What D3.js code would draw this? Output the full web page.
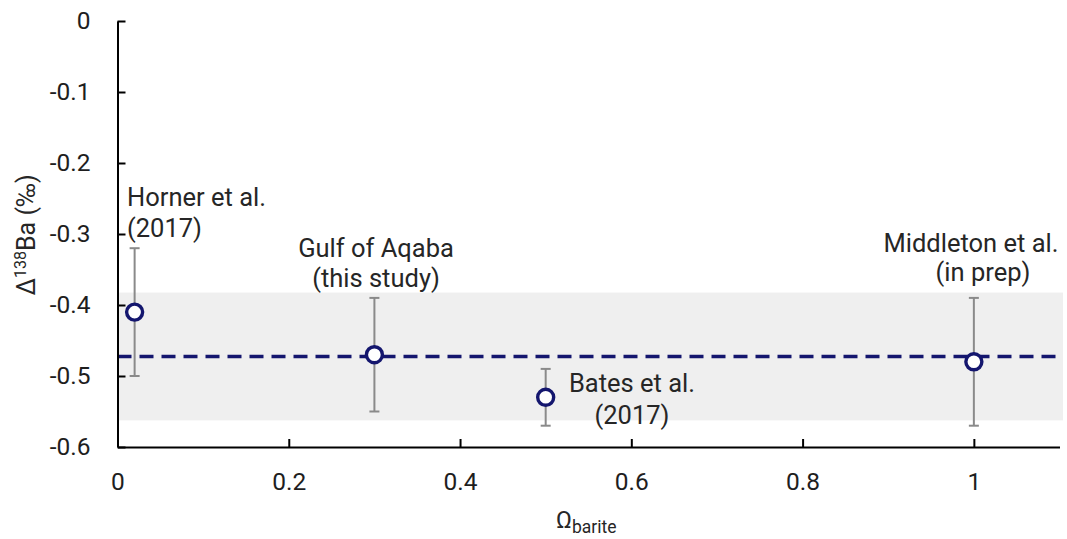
<!DOCTYPE html>
<html>
<head>
<meta charset="utf-8">
<script src="https://cdn.jsdelivr.net/npm/d3@7"></script>
<style>
  html, body { margin: 0; padding: 0; background: #ffffff; }
  svg { display: block; font-family: Roboto, "Noto Sans", sans-serif; }
</style>
</head>
<body>
<svg id="chart" width="1067" height="539"></svg>
<script>
// Barite saturation vs. Ba isotope fractionation, per study
const studies = ["Horner et al.|(2017)", "Gulf of Aqaba|(this study)", "Bates et al.|(2017)", "Middleton et al.|(in prep)"];
const omegaBarite = [0.02, 0.30, 0.50, 1.00];
const delta138 = [-0.41, -0.47, -0.53, -0.48];
const errUpper = [-0.32, -0.39, -0.49, -0.39];
const errLower = [-0.50, -0.55, -0.57, -0.57];

// Mean fractionation and its ±2SD envelope
const meanDelta = -0.4725;
const envelope = [-0.3825, -0.5625];

const xTicks = [0, 0.2, 0.4, 0.6, 0.8, 1];
const xTickLabels = ["0", "0.2", "0.4", "0.6", "0.8", "1"];
const yTicks = [0, -0.1, -0.2, -0.3, -0.4, -0.5, -0.6];
const yTickLabels = ["0", "-0.1", "-0.2", "-0.3", "-0.4", "-0.5", "-0.6"];

const svg = d3.select("#chart");
const navy = "#14166e";

const x = d3.scaleLinear().domain([0, 1.1]).range([117.5, 1059.5]);
const y = d3.scaleLinear().domain([-0.6, 0]).range([447, 21]);

// envelope band
svg.append("rect")
  .attr("x", x(0))
  .attr("y", y(envelope[0]))
  .attr("width", 1063 - x(0))
  .attr("height", y(envelope[1]) - y(envelope[0]))
  .attr("fill", "#efefef");

// mean line
svg.append("line")
  .attr("x1", x(0)).attr("x2", 1063)
  .attr("y1", y(meanDelta)).attr("y2", y(meanDelta))
  .attr("stroke", navy)
  .attr("stroke-width", 3.6)
  .attr("stroke-dasharray", "14,8");

// axes
const xAxis = d3.axisBottom(x)
  .tickValues(xTicks)
  .tickFormat((d, i) => xTickLabels[i])
  .tickSizeInner(-8)
  .tickSizeOuter(0)
  .tickPadding(26);

const yAxis = d3.axisLeft(y)
  .tickValues(yTicks)
  .tickFormat((d, i) => yTickLabels[i])
  .tickSizeInner(-8)
  .tickSizeOuter(0)
  .tickPadding(27);

function styleAxis(g) {
  g.select(".domain").attr("stroke", "#000").attr("stroke-width", 2);
  g.selectAll(".tick line").attr("stroke", "#000").attr("stroke-width", 2);
  g.selectAll(".tick text")
    .attr("fill", "#1e1e1e")
    .style("font-size", "24.5px")
    .style("font-family", "Roboto, sans-serif");
}

svg.append("g")
  .attr("transform", `translate(0,${y(-0.6)})`)
  .call(xAxis)
  .call(styleAxis);

svg.append("g")
  .attr("transform", `translate(${x(0)},0)`)
  .call(yAxis)
  .call(styleAxis);

// error bars
const pts = omegaBarite.map((v, i) => ({ x: v, y: delta138[i], hi: errUpper[i], lo: errLower[i], label: studies[i] }));
const capHalf = 5;
const eb = svg.append("g").attr("stroke", "#8a8a8a").attr("stroke-width", 2);
pts.forEach(p => {
  eb.append("line").attr("x1", x(p.x)).attr("x2", x(p.x)).attr("y1", y(p.hi)).attr("y2", y(p.lo));
  eb.append("line").attr("x1", x(p.x) - capHalf).attr("x2", x(p.x) + capHalf).attr("y1", y(p.hi)).attr("y2", y(p.hi));
  eb.append("line").attr("x1", x(p.x) - capHalf).attr("x2", x(p.x) + capHalf).attr("y1", y(p.lo)).attr("y2", y(p.lo));
});

// markers
svg.append("g").selectAll("circle")
  .data(pts)
  .join("circle")
  .attr("cx", d => x(d.x))
  .attr("cy", d => y(d.y))
  .attr("r", 8)
  .attr("fill", "#fff")
  .attr("stroke", navy)
  .attr("stroke-width", 3.4);

// study annotations: text anchor plus position of each of the two lines
const annot = [
  { anchor: "start",  x1: 127, y1: 206, x2: 127, y2: 237 },
  { anchor: "middle", x1: 376, y1: 257, x2: 376, y2: 287 },
  { anchor: "middle", x1: 632, y1: 392, x2: 632, y2: 424 },
  { anchor: "middle", x1: 971, y1: 252, x2: 983, y2: 281 }
];
const lab = svg.append("g")
  .attr("fill", "#262626")
  .style("font-size", "25.5px");
pts.forEach((p, i) => {
  const lines = p.label.split("|");
  const a = annot[i];
  lab.append("text").attr("x", a.x1).attr("y", a.y1).attr("text-anchor", a.anchor).text(lines[0]);
  lab.append("text").attr("x", a.x2).attr("y", a.y2).attr("text-anchor", a.anchor).text(lines[1]);
});

// axis titles
const yt = svg.append("text")
  .attr("transform", "translate(35,235) rotate(-90)")
  .attr("text-anchor", "middle")
  .attr("fill", "#262626")
  .style("font-size", "25px");
yt.append("tspan").text("Δ");
yt.append("tspan").style("font-size", "16px").attr("dy", -9).text("138");
yt.append("tspan").attr("dy", 9).text("Ba (‰)");

const xt = svg.append("text")
  .attr("x", 556).attr("y", 528)
  .attr("fill", "#262626")
  .style("font-size", "24px");
xt.append("tspan").text("Ω");
xt.append("tspan").style("font-size", "17.5px").attr("dy", 5).text("barite");
</script>
</body>
</html>
